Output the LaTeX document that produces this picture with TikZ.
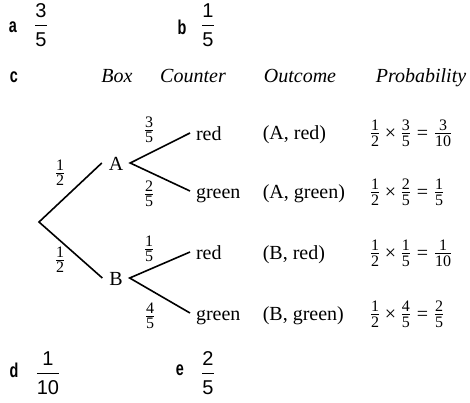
\documentclass[tikz,border=0pt]{standalone}
\usepackage{amsmath}
\usepackage{fontspec}
\setmainfont{Liberation Serif}
\newfontfamily\labfont{Liberation Sans}
\newfontfamily\letfont{Liberation Sans}[FakeStretch=0.72]
\DeclareMathSizes{20}{20}{16}{12}
\setlength{\arrayrulewidth}{0.8pt}
\newcommand\labfrac[2]{{\labfont\begin{tabular}{@{}c@{}}#1\\\hline\rule{0pt}{21pt}#2\end{tabular}}}
\newcommand\fr[2]{\frac{\text{#1}}{\text{#2}}}
\newcommand\tms{\mathbin{\text{×}}}
\newcommand\eq{\mathrel{\text{=}}}

\begin{document}
\begin{tikzpicture}[x=1pt,y=-1pt,line width=1.6pt,
  font=\fontsize{20}{24}\selectfont,
  every node/.style={inner sep=0pt},
  lett/.style={font=\fontsize{20}{24}\selectfont\letfont\bfseries},
  hd/.style={anchor=base,font=\fontsize{20}{24}\selectfont\itshape},
  box/.style={text height=14pt,text depth=0pt,inner sep=1pt,outer sep=6pt},
  leaf/.style={anchor=west,text height=14pt,text depth=0pt,inner sep=1pt,outer sep=5pt},
  row/.style={anchor=base west}]
\useasboundingbox (0,0) rectangle (470,402);

\node[lett] (la) at (13,27) {a};
\node (fa) at (41,27) {\labfrac{3}{5}};
\node[lett] (lb) at (182,27) {b};
\node (fb) at (208,27) {\labfrac{1}{5}};

\node[lett,anchor=base] (lc) at (14,82) {c};
\node[hd] (hbox) at (117,82) {Box};
\node[hd] (hcount) at (193,82) {Counter};
\node[hd] (hout) at (300,82) {Outcome};
\node[hd] (hprob) at (421,82) {Probability};

\coordinate (O) at (39,222);
\node[box] (A) at (116,163) {A};
\node[box] (B) at (116,278) {B};
\node[leaf] (Ar) at (190,133) {red};
\node[leaf] (Ag) at (190,191) {green};
\node[leaf] (Br) at (190,252) {red};
\node[leaf] (Bg) at (190,313) {green};

\draw (A.west) -- (O) -- (B.west);
\draw (Ar.west) -- (A.east) -- (Ag.west);
\draw (Br.west) -- (B.east) -- (Bg.west);

\node (pA) at (60,173) {$\fr{1}{2}$};
\node (pB) at (60,260) {$\fr{1}{2}$};
\node (pAr) at (149,130) {$\fr{3}{5}$};
\node (pAg) at (149,194) {$\fr{2}{5}$};
\node (pBr) at (149,249) {$\fr{1}{5}$};
\node (pBg) at (150,316) {$\fr{4}{5}$};

\node[row] (oAr) at (262,139) {(A, red)};
\node[row] (oAg) at (262,198) {(A, green)};
\node[row] (oBr) at (262,259) {(B, red)};
\node[row] (oBg) at (262,320) {(B, green)};

\node[row] (qAr) at (369,139) {$\fr{1}{2}\tms\fr{3}{5}\eq\fr{3}{10}$};
\node[row] (qAg) at (369,198) {$\fr{1}{2}\tms\fr{2}{5}\eq\fr{1}{5}$};
\node[row] (qBr) at (369,259) {$\fr{1}{2}\tms\fr{1}{5}\eq\fr{1}{10}$};
\node[row] (qBg) at (369,320) {$\fr{1}{2}\tms\fr{4}{5}\eq\fr{2}{5}$};

\node[lett] (ld) at (14,370) {d};
\node (fd) at (48,375) {\labfrac{1}{10}};
\node[lett] (le) at (180,370) {e};
\node (fe) at (208,375) {\labfrac{2}{5}};

\end{tikzpicture}
\end{document}
